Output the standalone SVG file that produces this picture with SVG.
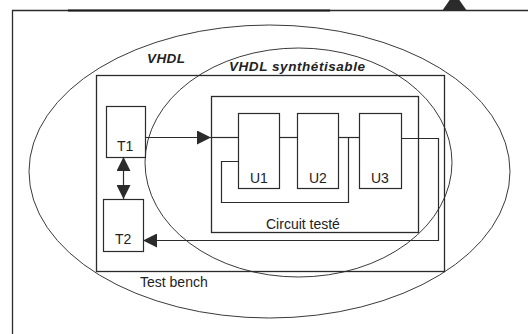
<svg xmlns="http://www.w3.org/2000/svg" width="528" height="334" viewBox="0 0 528 334">
<style>
.ln{fill:none;stroke:#2b2b2b;stroke-width:1.2}
.el{fill:none;stroke:#3a3a3a;stroke-width:1}
.bx{fill:none;stroke:#2b2b2b;stroke-width:1.2}
.fr{fill:none;stroke:#2b2b2b;stroke-width:1.3}
.tx{font-family:"Liberation Sans",Arial,sans-serif;font-size:14px;fill:#222}
.ti{font-family:"Liberation Sans",Arial,sans-serif;font-size:13.5px;font-weight:bold;font-style:italic;fill:#222}
</style>
<defs>
<marker id="ah" viewBox="0 0 14 14" refX="14" refY="7" markerWidth="14" markerHeight="14" markerUnits="userSpaceOnUse" orient="auto-start-reverse">
<path d="M0,0 L14,7 L0,14 z" fill="#2b2b2b"/>
</marker>
</defs>
<rect width="528" height="334" fill="#fff"/>
<g id="frame">
<path class="fr" d="M12.5,334 V10.5 H528"/>
<path d="M68,10.5 H330" stroke="#1a1a1a" stroke-width="2"/>
<polygon points="442,11 467,11 454.5,-7" fill="#2b2b2b"/>
</g>
<g id="vhdl">
<ellipse class="el" cx="269.5" cy="171.5" rx="240.5" ry="146.5"/>
<text class="ti" x="147" y="63" textLength="38">VHDL</text>
</g>
<g id="vhdl-synth">
<ellipse class="el" cx="298.5" cy="162.5" rx="153.5" ry="114.5"/>
<text class="ti" x="229" y="71" textLength="136">VHDL synthétisable</text>
</g>
<g id="testbench">
<rect class="fr" x="96.5" y="75.5" width="348" height="196"/>
<text class="tx" x="140" y="287">Test bench</text>
</g>
<g id="circuit">
<rect class="fr" x="211.5" y="96.5" width="207" height="136"/>
<text class="tx" x="266" y="229">Circuit testé</text>
</g>
<g id="connectors">
<path class="ln" d="M145,137.5 H211" marker-end="url(#ah)"/>
<path class="ln" d="M211,137.5 H238"/>
<path class="ln" d="M279,137.5 H297"/>
<path class="ln" d="M338,137.5 H359"/>
<path class="ln" d="M348.5,137.5 V202.5 H221.5 V161.5 H238"/>
<path class="ln" d="M401,138.5 H438.5 V240.5 H143" marker-end="url(#ah)"/>
<path class="ln" d="M123.5,157 V199" marker-start="url(#ah)" marker-end="url(#ah)"/>
</g>
<g id="T1">
<rect class="bx" x="106.5" y="106.5" width="39" height="51"/>
<text class="tx" x="117" y="151">T1</text>
</g>
<g id="T2">
<rect class="bx" x="103.5" y="199.5" width="40" height="52"/>
<text class="tx" x="115" y="244">T2</text>
</g>
<g id="U1">
<rect class="bx" x="238.5" y="113.5" width="41" height="75"/>
<text class="tx" x="250" y="183">U1</text>
</g>
<g id="U2">
<rect class="bx" x="297.5" y="113.5" width="41" height="75"/>
<text class="tx" x="309" y="183">U2</text>
</g>
<g id="U3">
<rect class="bx" x="359.5" y="113.5" width="42" height="75"/>
<text class="tx" x="371" y="183">U3</text>
</g>
</svg>
